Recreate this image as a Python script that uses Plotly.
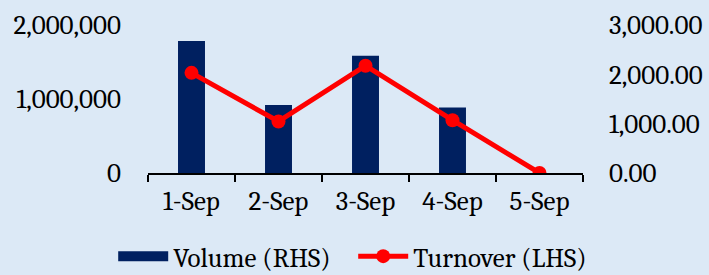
import plotly.graph_objects as go

categories = ["1-Sep", "2-Sep", "3-Sep", "4-Sep", "5-Sep"]
volume = [1785000, 920000, 1585000, 885000, 0]
turnover = [2030.0, 1045.0, 2175.0, 1070.0, 0.0]

FONT = "Cambria, 'Liberation Serif', serif"
BG = "#DCE9F6"
BAR_COLOR = "#002060"

fig = go.Figure()
fig.add_trace(go.Bar(
    x=categories, y=volume, name="Volume (RHS)",
    marker=dict(color=BAR_COLOR, line=dict(width=0)),
    yaxis="y", showlegend=False,
))
# legend proxy so the bar's key is drawn as a wide block, as in the reference
fig.add_trace(go.Scatter(
    x=[None], y=[None], name="Volume (RHS)", mode="lines",
    line=dict(color=BAR_COLOR, width=13), yaxis="y", hoverinfo="skip",
))
fig.add_trace(go.Scatter(
    x=categories, y=turnover, name="Turnover (LHS)",
    mode="lines+markers",
    line=dict(color="#FF0000", width=5),
    marker=dict(color="#FF0000", size=14),
    yaxis="y2",
))

fig.update_layout(
    width=709, height=275,
    paper_bgcolor=BG, plot_bgcolor=BG,
    margin=dict(l=148, r=126, t=25, b=102, autoexpand=False),
    font=dict(family=FONT, size=27, color="#000000"),
    bargap=0.69,
    showlegend=True,
    legend=dict(
        orientation="h", x=-0.08, xanchor="left", xref="paper",
        y=-0.565, yanchor="middle", yref="paper",
        font=dict(size=27), itemwidth=50, tracegroupgap=0,
        entrywidth=175, entrywidthmode="pixels",
        bgcolor="rgba(0,0,0,0)",
    ),
    xaxis=dict(
        showline=True, linecolor="#000000", linewidth=2,
        ticks="outside", tickson="boundaries", ticklen=7, tickwidth=1.5,
        tickcolor="#000000", showgrid=False, zeroline=False,
        ticklabelstandoff=3, automargin=False,
    ),
    yaxis=dict(
        range=[0, 2000000], dtick=1000000, tickformat=",d",
        showgrid=False, zeroline=False, showline=False,
        ticklabelstandoff=26, automargin=False,
    ),
    yaxis2=dict(
        range=[0, 3000], dtick=1000, tickformat=",.2f",
        overlaying="y", side="right",
        showgrid=False, zeroline=False, showline=False,
        ticklabelstandoff=25, automargin=False,
    ),
)

fig.write_html(
    "out.html",
    config={"displayModeBar": False},
    post_script="document.body.style.margin='0';document.body.style.background='" + BG + "';",
)
